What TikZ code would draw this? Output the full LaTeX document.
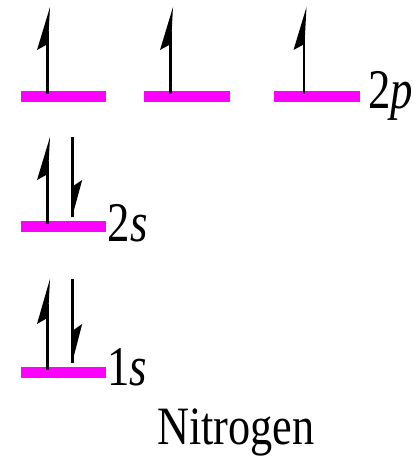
\documentclass[tikz,border=0pt]{standalone}
\usepackage{fontspec}
\setmainfont{Liberation Serif}
\usepackage{graphicx}
\definecolor{orbital}{HTML}{FF00FF}
\begin{document}
\begin{tikzpicture}[x=1pt,y=-1pt,
  bar/.style={fill=orbital, draw=none, inner sep=0, minimum width=85pt, minimum height=11pt, anchor=north west},
  lbl/.style={font=\fontsize{56}{60}\selectfont, anchor=base west, inner sep=0},
  uparr/.pic={
    \draw[line width=2.6pt] (0,3) -- (0,-60);
    \fill (2.5,-84) -- (-10.5,-41) -- (0.5,-47) -- cycle;
  },
  downarr/.pic={
    \draw[line width=2.6pt] (0,-84) -- (0,-4);
    \fill (0.7,-8) -- (9.7,-41) -- (0.7,-35) -- cycle;
  }]
\useasboundingbox (0,0) rectangle (417,457);
% 2p
\node[bar] (p1) at (21,91) {};
\node[bar, minimum width=86pt] (p2) at (144,91) {};
\node[bar, minimum width=86pt] (p3) at (274,91) {};
\pic at ([xshift=26.5pt]p1.north west) {uparr};
\pic at ([xshift=26.5pt]p2.north west) {uparr};
\pic at ([xshift=30pt]p3.north west) {uparr};
\node[lbl] (l2p) at (368,109) {\scalebox{0.8}[1]{2\textit{p}}};
% 2s
\node[bar] (s2) at (21,221) {};
\pic at ([xshift=26.5pt]s2.north west) {uparr};
\pic at ([xshift=51.5pt]s2.north west) {downarr};
\node[lbl] (l2s) at (107.5,241) {\scalebox{0.8}[1]{2\textit{s}}};
% 1s
\node[bar] (s1) at (21,367) {};
\pic[yscale=1.05] at ([xshift=26.5pt]s1.north west) {uparr};
\pic[yscale=1.05] at ([xshift=51.5pt]s1.north west) {downarr};
\node[lbl] (l1s) at (107,385) {\scalebox{0.8}[1]{1\textit{s}}};
% title
\node[lbl, font=\fontsize{54}{58}\selectfont] (title) at (157,444) {\scalebox{0.82}[1]{Nitrogen}};
\end{tikzpicture}
\end{document}
